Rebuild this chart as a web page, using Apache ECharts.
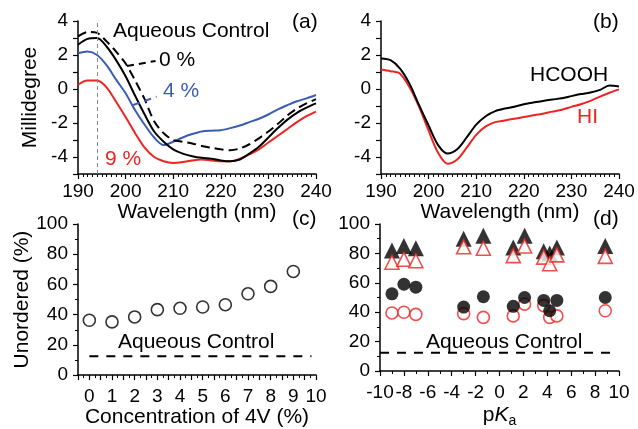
<!DOCTYPE html>
<html>
<head>
<meta charset="utf-8">
<script src="https://cdn.jsdelivr.net/npm/echarts@6/dist/echarts.min.js"></script>
<style>
html,body{margin:0;padding:0;background:#fff}
#chart{width:638px;height:429px}
</style>
</head>
<body>
<div id="chart"></div>
<script>
// (a) / (b) CD spectra, every 2 nm
const wavelength = [190,192,194,196,198,200,202,204,206,208,210,212,214,216,218,220,222,224,226,228,230,232,234,236,238,240];
const aqueousCtrl = [3.1,3.35,3.3,2.8,2.2,1.5,0.5,-0.6,-1.9,-2.6,-3.0,-3.1,-3.2,-3.35,-3.45,-3.55,-3.6,-3.5,-3.25,-2.9,-2.5,-2.05,-1.55,-1.15,-0.85,-0.6];
const conc0 = [2.6,2.95,3.0,2.5,1.7,0.75,-0.4,-1.5,-2.5,-3.1,-3.55,-3.8,-3.95,-4.05,-4.1,-4.2,-4.25,-4.15,-3.8,-3.4,-2.85,-2.3,-1.8,-1.4,-1.1,-0.85];
const conc4 = [2.1,2.2,2.0,1.4,0.55,-0.25,-1.25,-2.1,-2.85,-3.3,-3.1,-2.85,-2.65,-2.5,-2.45,-2.42,-2.3,-2.15,-1.95,-1.75,-1.5,-1.2,-0.95,-0.72,-0.55,-0.35];
const conc9 = [0.25,0.5,0.5,0.1,-0.75,-1.65,-2.6,-3.45,-4.0,-4.25,-4.35,-4.3,-4.2,-4.15,-4.2,-4.25,-4.25,-4.1,-3.85,-3.55,-3.15,-2.75,-2.35,-1.95,-1.6,-1.33];
const hcooh = [1.8,1.7,1.2,0.3,-0.95,-2.15,-3.3,-3.8,-3.55,-2.85,-2.1,-1.6,-1.3,-1.15,-1.05,-0.9,-0.8,-0.7,-0.62,-0.55,-0.42,-0.3,-0.2,-0.05,0.2,0.15];
const hi = [1.15,1.05,0.9,0.1,-1.05,-2.45,-3.75,-4.4,-4.15,-3.45,-2.7,-2.2,-1.95,-1.85,-1.75,-1.65,-1.55,-1.45,-1.33,-1.22,-1.05,-0.9,-0.7,-0.45,-0.22,-0.02];
const markerWl = 194;

// (c) unordered fraction vs 4V concentration
const conc4V = [0,1,2,3,4,5,6,7,8,9];
const unorderedConc = [36.3,35.2,38.5,43.3,44.2,45.1,46.6,53.8,58.7,68.6];
const aqueousLevel = 12.5;

// (d) vs pKa
const pka = [-9,-8,-7,-3,-1.35,1.15,2.1,3.7,4.2,4.8,8.85];
const triBlack = [82,85,83.5,90,92,84,92,81.5,80,84,85];
const triRed = [74,76,75,84.5,83.5,78.5,85,77.5,73,79,78];
const dotBlack = [52.5,59,57,43.5,50.5,44,50,48,41,48,50];
const dotRed = [39.5,40,38.5,39,36.5,37.5,45.5,44.5,36.5,37.5,41];

const RED = '#ee2323';
const BLUE = '#3b5cb4';
const FONT = 'Liberation Sans';

const zip = (xs, ys) => xs.map((x, i) => [x, ys[i]]);

function axisBase(extra) {
    return Object.assign({
        type: 'value',
        axisLine: {show: true, onZero: false, lineStyle: {color: '#000', width: 1.5}},
        axisTick: {show: true, length: 5, lineStyle: {color: '#000', width: 1.2}},
        minorTick: {show: true, length: 3, lineStyle: {color: '#000', width: 1}},
        splitLine: {show: false},
        axisLabel: {color: '#000', fontSize: 19, fontFamily: FONT, margin: 8},
        nameTextStyle: {color: '#000', fontSize: 21, fontFamily: FONT}
    }, extra);
}

function curve(xi, data, color, dashed) {
    return {
        type: 'line', xAxisIndex: xi, yAxisIndex: xi,
        data: zip(wavelength, data), showSymbol: false, smooth: 0.3,
        lineStyle: {color: color, width: 2, type: dashed ? [9, 5] : 'solid'}
    };
}

function text(str, x, y, color, size) {
    return {
        type: 'text', left: x, top: y - (size || 21) / 2 - 1,
        style: {text: str, fill: color || '#000', font: (size || 21) + 'px "' + FONT + '"'}
    };
}

const myChart = echarts.init(document.getElementById('chart'));
const option = {
    animation: false,
    backgroundColor: '#fff',
    grid: [
        {left: 78, top: 21, width: 238, height: 153},
        {left: 381, top: 21, width: 238, height: 153},
        {left: 78, top: 224, width: 238, height: 152},
        {left: 380, top: 224, width: 239, height: 152}
    ],
    xAxis: [
        axisBase({gridIndex: 0, min: 190, max: 240, interval: 10, minorTick: {show: true, splitNumber: 10, length: 3, lineStyle: {color: '#000'}},
            name: 'Wavelength (nm)', nameLocation: 'middle', nameGap: 24}),
        axisBase({gridIndex: 1, min: 190, max: 240, interval: 10, minorTick: {show: true, splitNumber: 10, length: 3, lineStyle: {color: '#000'}},
            name: 'Wavelength (nm)', nameLocation: 'middle', nameGap: 24}),
        axisBase({gridIndex: 2, min: -0.5, max: 10, interval: 0.5, minorTick: {show: true, splitNumber: 2, length: 3, lineStyle: {color: '#000'}},
            axisLabel: {color: '#000', fontSize: 19, fontFamily: FONT, margin: 12, formatter: v => Number.isInteger(v) ? String(v) : ''},
            name: 'Concentration of 4V (%)', nameLocation: 'middle', nameGap: 31}),
        axisBase({gridIndex: 3, min: -10, max: 10, interval: 2, minorTick: {show: true, splitNumber: 2, length: 3, lineStyle: {color: '#000'}},
            axisLabel: {color: '#000', fontSize: 19, fontFamily: FONT, margin: 12},
            name: '{p|p}{k|K}{s|a}', nameLocation: 'middle', nameGap: 31,
            nameTextStyle: {color: '#000', fontSize: 21, fontFamily: FONT,
                rich: {p: {fontSize: 21, fontFamily: FONT}, k: {fontSize: 21, fontFamily: FONT, fontStyle: 'italic'},
                       s: {fontSize: 14, fontFamily: FONT, padding: [12, 0, 0, 0]}}}})
    ],
    yAxis: [
        axisBase({gridIndex: 0, min: -5, max: 4, interval: 1, minorTick: {show: false},
            axisLabel: {color: '#000', fontSize: 19, fontFamily: FONT, margin: 10, formatter: v => (v % 2 === 0 && v > -5) ? String(v) : ''},
            name: 'Millidegree', nameLocation: 'middle', nameGap: 37}),
        axisBase({gridIndex: 1, min: -5, max: 4, interval: 1, minorTick: {show: false},
            axisLabel: {color: '#000', fontSize: 19, fontFamily: FONT, margin: 10, formatter: v => (v % 2 === 0 && v > -5) ? String(v) : ''}}),
        axisBase({gridIndex: 2, min: 0, max: 100, interval: 20, minorTick: {show: true, splitNumber: 2, length: 3, lineStyle: {color: '#000'}},
            axisLabel: {color: '#000', fontSize: 19, fontFamily: FONT, margin: 10},
            name: 'Unordered (%)', nameLocation: 'middle', nameGap: 44}),
        axisBase({gridIndex: 3, min: 0, max: 100, interval: 20, minorTick: {show: true, splitNumber: 2, length: 3, lineStyle: {color: '#000'}},
            axisLabel: {color: '#000', fontSize: 19, fontFamily: FONT, margin: 10}})
    ],
    series: [
        // (a)
        Object.assign(curve(0, conc9, RED), {
            markLine: {silent: true, symbol: 'none', label: {show: false},
                lineStyle: {color: '#888', type: [4, 3], width: 1}, data: [{xAxis: markerWl}]}
        }),
        curve(0, conc4, BLUE),
        curve(0, conc0, '#000'),
        curve(0, aqueousCtrl, '#000', true),
        {type: 'line', xAxisIndex: 0, yAxisIndex: 0, showSymbol: false,
            data: [[200.3, 1.35], [206.3, 1.65]], lineStyle: {color: '#000', width: 2, type: [7, 5]}},
        {type: 'line', xAxisIndex: 0, yAxisIndex: 0, showSymbol: false,
            data: [[201.6, -0.94], [206.5, -0.45]], lineStyle: {color: BLUE, width: 2, type: [7, 5]}},
        // (b)
        curve(1, hi, RED),
        curve(1, hcooh, '#000'),
        // (c)
        {type: 'line', xAxisIndex: 2, yAxisIndex: 2, showSymbol: false,
            data: [[0, aqueousLevel], [9.8, aqueousLevel]], lineStyle: {color: '#000', width: 2, type: [9, 8]}},
        {type: 'scatter', xAxisIndex: 2, yAxisIndex: 2, symbol: 'circle', symbolSize: 12,
            data: zip(conc4V, unorderedConc), itemStyle: {color: '#fff', borderColor: '#000', borderWidth: 1.6}},
        // (d)
        {type: 'line', xAxisIndex: 3, yAxisIndex: 3, showSymbol: false,
            data: [[-10, aqueousLevel], [9.85, aqueousLevel]], lineStyle: {color: '#000', width: 2, type: [9, 8]}},
        {type: 'scatter', xAxisIndex: 3, yAxisIndex: 3, symbol: 'circle', symbolSize: 12,
            data: zip(pka, dotRed), itemStyle: {color: '#fff', borderColor: RED, borderWidth: 1.6}},
        {type: 'scatter', xAxisIndex: 3, yAxisIndex: 3, symbol: 'circle', symbolSize: 13,
            data: zip(pka, dotBlack), itemStyle: {color: '#000'}},
        {type: 'scatter', xAxisIndex: 3, yAxisIndex: 3, symbol: 'triangle', symbolSize: 16,
            data: zip(pka, triBlack), itemStyle: {color: '#000'}},
        {type: 'scatter', xAxisIndex: 3, yAxisIndex: 3, symbol: 'triangle', symbolSize: 14,
            data: zip(pka, triRed), itemStyle: {color: '#fff', borderColor: RED, borderWidth: 1.6}}
    ],
    graphic: [
        text('Aqueous Control', 113, 32),
        text('0 %', 159, 61),
        text('4 %', 163, 92, BLUE),
        text('9 %', 105, 160, RED),
        text('(a)', 292, 23),
        text('HCOOH', 530, 76),
        text('HI', 577, 118, RED),
        text('(b)', 593, 23),
        text('Aqueous Control', 118, 343),
        text('(c)', 292, 220),
        text('Aqueous Control', 426, 343),
        text('(d)', 593, 220)
    ]
};
myChart.setOption(option);
</script>
</body>
</html>
